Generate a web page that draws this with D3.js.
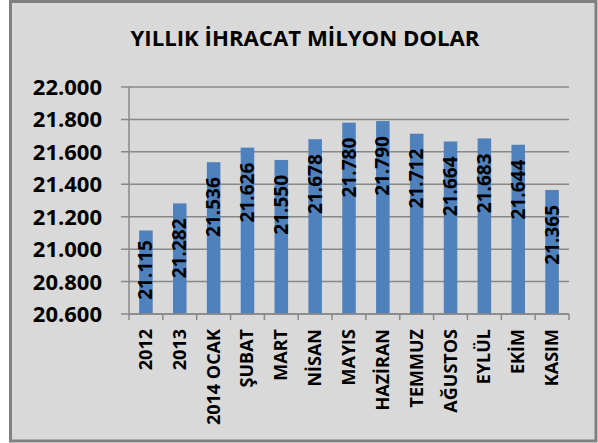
<!DOCTYPE html>
<html>
<head>
<meta charset="utf-8">
<script src="https://cdn.jsdelivr.net/npm/d3@7"></script>
<style>
body{margin:0;background:#fff;}
svg text{font-family:"Open Sans",sans-serif;font-weight:bold;fill:#000;}
</style>
</head>
<body>
<svg id="chart" width="598" height="443"></svg>
<script>
// kategoriler (aylar)
var CATEGORIES=["2012","2013","2014 OCAK","ŞUBAT","MART","NİSAN","MAYIS","HAZİRAN","TEMMUZ","AĞUSTOS","EYLÜL","EKİM","KASIM"];
// ihracat degerleri (milyon dolar)
var VALUES=[21.115,21.282,21.536,21.626,21.550,21.678,21.780,21.790,21.712,21.664,21.683,21.644,21.365];
// y ekseni tikleri
var Y_TICKS=[20.6,20.8,21.0,21.2,21.4,21.6,21.8,22.0];
var TITLE="YILLIK İHRACAT MİLYON DOLAR";

var svg=d3.select("#chart");
var fmt=function(v){return d3.format(".3f")(v);};

// cerceve
svg.append("rect")
	.attr("x",10.5).attr("y",1.5)
	.attr("width",585.5).attr("height",439.5)
	.style("fill","#d9d9d9")
	.style("stroke","#808080")
	.style("stroke-width",3);

// baslik
svg.append("text")
	.text(TITLE)
	.attr("x",305).attr("y",46)
	.attr("text-anchor","middle")
	.style("font-size","22px")
	.attr("textLength",349)
	.attr("lengthAdjust","spacingAndGlyphs");

var PLOT_LEFT=129, PLOT_RIGHT=569, PLOT_TOP=87, PLOT_BOTTOM=314;

var x=d3.scaleBand().domain(CATEGORIES).range([PLOT_LEFT,PLOT_RIGHT]).paddingInner(0.6).paddingOuter(0.3);
var xOuter=d3.scaleBand().domain(CATEGORIES).range([PLOT_LEFT,PLOT_RIGHT]);
var y=d3.scaleLinear().domain([20.6,22.0]).range([PLOT_BOTTOM,PLOT_TOP]);

// yatay izgara
svg.append("g").selectAll("line").data(Y_TICKS).enter().append("line")
	.attr("x1",PLOT_LEFT-8).attr("x2",PLOT_RIGHT)
	.attr("y1",function(d){return y(d);})
	.attr("y2",function(d){return y(d);})
	.style("stroke","#888")
	.style("stroke-width",1.5);

// y ekseni etiketleri
svg.append("g").selectAll("text").data(Y_TICKS).enter().append("text")
	.text(function(d){return fmt(d);})
	.attr("x",102)
	.attr("y",function(d){return y(d)+8;})
	.attr("text-anchor","end")
	.style("font-size","22px");

// cubuklar
svg.append("g").selectAll("rect").data(VALUES).enter().append("rect")
	.attr("x",function(d,i){return x(CATEGORIES[i]);})
	.attr("width",x.bandwidth())
	.attr("y",function(d){return y(d);})
	.attr("height",function(d){return PLOT_BOTTOM-y(d);})
	.style("fill","#4f81bd");

// eksenler
svg.append("line")
	.attr("x1",PLOT_LEFT).attr("x2",PLOT_LEFT)
	.attr("y1",PLOT_TOP).attr("y2",PLOT_BOTTOM)
	.style("stroke","#888").style("stroke-width",1.5);
svg.append("line")
	.attr("x1",PLOT_LEFT).attr("x2",PLOT_RIGHT)
	.attr("y1",PLOT_BOTTOM).attr("y2",PLOT_BOTTOM)
	.style("stroke","#888").style("stroke-width",1.5);
var catTicks=CATEGORIES.map(function(c){return xOuter(c);}).concat([PLOT_RIGHT]);
svg.append("g").selectAll("line").data(catTicks).enter().append("line")
	.attr("x1",function(d){return d;}).attr("x2",function(d){return d;})
	.attr("y1",PLOT_BOTTOM).attr("y2",PLOT_BOTTOM+6)
	.style("stroke","#888").style("stroke-width",1.5);

// kategori etiketleri
svg.append("g").selectAll("text").data(CATEGORIES).enter().append("text")
	.text(function(d){return d;})
	.attr("text-anchor","end")
	.attr("transform",function(d){return "translate("+(xOuter(d)+xOuter.bandwidth()/2+6)+","+(PLOT_BOTTOM+15)+") rotate(-90)";})
	.style("font-size","18px");

// deger etiketleri
var LABEL_LEN=58;
svg.append("g").selectAll("text").data(VALUES).enter().append("text")
	.text(function(d){return fmt(d);})
	.attr("text-anchor","end")
	.attr("transform",function(d,i){
		var top=Math.min(y(d)+15,PLOT_BOTTOM-16-LABEL_LEN);
		return "translate("+(x(CATEGORIES[i])+x.bandwidth()/2+6.5)+","+top+") rotate(-90)";
	})
	.style("font-size","19px");
</script>
</body>
</html>
